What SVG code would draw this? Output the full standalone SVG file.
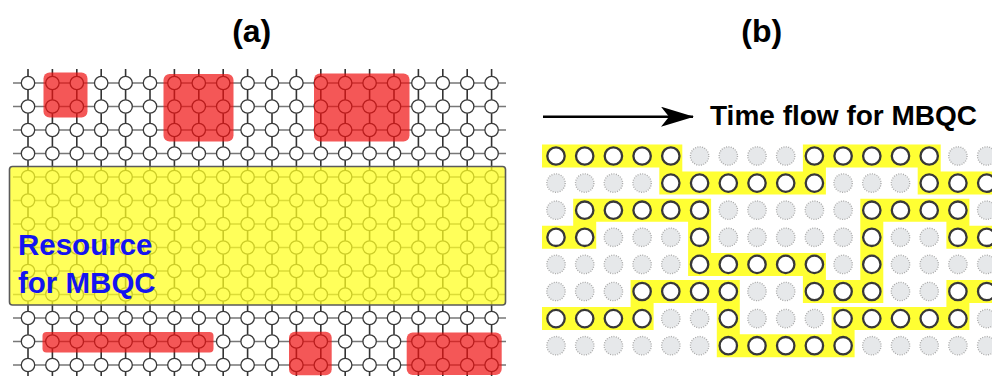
<svg xmlns="http://www.w3.org/2000/svg" xmlns:xlink="http://www.w3.org/1999/xlink" width="992" height="376" viewBox="0 0 992 376">
<style>
.title{font-family:"Liberation Sans",Arial,sans-serif;font-weight:bold;fill:#000}
.vl{stroke:#333;stroke-width:1.6;fill:none}
.hl{stroke:#777;stroke-width:1.4;fill:none}
.ac{fill:#fff;stroke:#3a3a3a;stroke-width:1.3}
.red{fill:#f01010;fill-opacity:0.7}
.on{fill:#fff;stroke:#383838;stroke-width:2.3}
.off{fill:#e6e8ea;stroke:#a8a8a8;stroke-width:1.3;stroke-dasharray:1 1.4}
.yp{fill:none;stroke:#ffff33;stroke-width:23;stroke-linejoin:miter;stroke-linecap:butt}
</style>
<defs>
<g id="arow">
<circle class="ac" cx="28" cy="0" r="6.7"/><circle class="ac" cx="52.4" cy="0" r="6.7"/><circle class="ac" cx="76.8" cy="0" r="6.7"/><circle class="ac" cx="101.2" cy="0" r="6.7"/><circle class="ac" cx="125.6" cy="0" r="6.7"/><circle class="ac" cx="150" cy="0" r="6.7"/><circle class="ac" cx="174.4" cy="0" r="6.7"/><circle class="ac" cx="198.8" cy="0" r="6.7"/><circle class="ac" cx="223.2" cy="0" r="6.7"/><circle class="ac" cx="247.6" cy="0" r="6.7"/><circle class="ac" cx="272" cy="0" r="6.7"/><circle class="ac" cx="296.4" cy="0" r="6.7"/><circle class="ac" cx="320.8" cy="0" r="6.7"/><circle class="ac" cx="345.2" cy="0" r="6.7"/><circle class="ac" cx="369.6" cy="0" r="6.7"/><circle class="ac" cx="394" cy="0" r="6.7"/><circle class="ac" cx="418.4" cy="0" r="6.7"/><circle class="ac" cx="442.8" cy="0" r="6.7"/><circle class="ac" cx="467.2" cy="0" r="6.7"/><circle class="ac" cx="491.6" cy="0" r="6.7"/>
</g>
<circle id="n1" class="on" r="8.7"/>
<circle id="n0" class="off" r="9.2"/>
<marker id="head" viewBox="0 0 34 20" refX="32" refY="10" markerWidth="34" markerHeight="20" markerUnits="userSpaceOnUse" orient="auto">
<path d="M33,10 L0,0 L8,10 L0,20 Z" fill="#000"/>
</marker>
</defs>

<text class="title" x="251.7" y="42" font-size="32" text-anchor="middle">(a)</text>
<text class="title" x="761.7" y="42" font-size="32" text-anchor="middle">(b)</text>

<g id="panel-a">
<g id="grid-lines">
<path class="vl" d="M28,69V376M52.4,69V376M76.8,69V376M101.2,69V376M125.6,69V376M150,69V376M174.4,69V376M198.8,69V376M223.2,69V376M247.6,69V376M272,69V376M296.4,69V376M320.8,69V376M345.2,69V376M369.6,69V376M394,69V376M418.4,69V376M442.8,69V376M467.2,69V376M491.6,69V376"/>
<path class="hl" d="M13,83H506M13,106.5H506M13,130H506M13,153.5H506M13,177H506M13,200.5H506M13,224H506M13,247.5H506M13,271H506M13,294.5H506M13,318H506M13,341.5H506M13,365H506"/>
</g>
<g id="grid-nodes">
<use xlink:href="#arow" y="83"/><use xlink:href="#arow" y="106.5"/><use xlink:href="#arow" y="130"/><use xlink:href="#arow" y="153.5"/><use xlink:href="#arow" y="177"/><use xlink:href="#arow" y="200.5"/><use xlink:href="#arow" y="224"/><use xlink:href="#arow" y="247.5"/><use xlink:href="#arow" y="271"/><use xlink:href="#arow" y="294.5"/><use xlink:href="#arow" y="318"/><use xlink:href="#arow" y="341.5"/><use xlink:href="#arow" y="365"/>
</g>
<g id="resource">
<rect x="9.5" y="166.5" width="496" height="138.5" rx="3" fill="#ffff20" fill-opacity="0.74" stroke="#5a5a5a" stroke-width="1.6"/>
<text class="title" x="18" y="255" font-size="29.5" style="fill:#1414f0">Resource</text>
<text class="title" x="18" y="292.7" font-size="29.5" style="fill:#1414f0">for MBQC</text>
</g>
<g id="defects">
<rect class="red" x="43.5" y="72.5" width="44" height="45" rx="6"/>
<rect class="red" x="163.5" y="74" width="70" height="67.5" rx="6"/>
<rect class="red" x="314" y="73.5" width="95.5" height="68" rx="6"/>
<rect class="red" x="42.5" y="332" width="171" height="20.5" rx="4"/>
<rect class="red" x="289" y="331.7" width="42.7" height="43.5" rx="6"/>
<rect class="red" x="406.7" y="332.5" width="95" height="42.5" rx="6"/>
</g>
</g>

<g id="panel-b">
<g id="paths">
<path class="yp" d="M542,156H670.8V183.1H814.4V156H929.2V183.1H1000"/>
<path class="yp" d="M542,237.3H584.7V210.2H699.6V264.4H814.4V291.5H871.8V210.2H957.9V237.3H1000"/>
<path class="yp" d="M542,318.6H642.1V291.5H728.3V345.7H843.1V318.6H957.9V291.5H1000"/>
</g>
<g id="qubits">
<g transform="translate(0,156)"><use xlink:href="#n1" x="556"/><use xlink:href="#n1" x="584.7"/><use xlink:href="#n1" x="613.4"/><use xlink:href="#n1" x="642.1"/><use xlink:href="#n1" x="670.8"/><use xlink:href="#n0" x="699.6"/><use xlink:href="#n0" x="728.3"/><use xlink:href="#n0" x="757"/><use xlink:href="#n0" x="785.7"/><use xlink:href="#n1" x="814.4"/><use xlink:href="#n1" x="843.1"/><use xlink:href="#n1" x="871.8"/><use xlink:href="#n1" x="900.5"/><use xlink:href="#n1" x="929.2"/><use xlink:href="#n0" x="957.9"/><use xlink:href="#n0" x="986.7"/></g>
<g transform="translate(0,183.1)"><use xlink:href="#n0" x="556"/><use xlink:href="#n0" x="584.7"/><use xlink:href="#n0" x="613.4"/><use xlink:href="#n0" x="642.1"/><use xlink:href="#n1" x="670.8"/><use xlink:href="#n1" x="699.6"/><use xlink:href="#n1" x="728.3"/><use xlink:href="#n1" x="757"/><use xlink:href="#n1" x="785.7"/><use xlink:href="#n1" x="814.4"/><use xlink:href="#n0" x="843.1"/><use xlink:href="#n0" x="871.8"/><use xlink:href="#n0" x="900.5"/><use xlink:href="#n1" x="929.2"/><use xlink:href="#n1" x="957.9"/><use xlink:href="#n1" x="986.7"/></g>
<g transform="translate(0,210.2)"><use xlink:href="#n0" x="556"/><use xlink:href="#n1" x="584.7"/><use xlink:href="#n1" x="613.4"/><use xlink:href="#n1" x="642.1"/><use xlink:href="#n1" x="670.8"/><use xlink:href="#n1" x="699.6"/><use xlink:href="#n0" x="728.3"/><use xlink:href="#n0" x="757"/><use xlink:href="#n0" x="785.7"/><use xlink:href="#n0" x="814.4"/><use xlink:href="#n0" x="843.1"/><use xlink:href="#n1" x="871.8"/><use xlink:href="#n1" x="900.5"/><use xlink:href="#n1" x="929.2"/><use xlink:href="#n1" x="957.9"/><use xlink:href="#n0" x="986.7"/></g>
<g transform="translate(0,237.3)"><use xlink:href="#n1" x="556"/><use xlink:href="#n1" x="584.7"/><use xlink:href="#n0" x="613.4"/><use xlink:href="#n0" x="642.1"/><use xlink:href="#n0" x="670.8"/><use xlink:href="#n1" x="699.6"/><use xlink:href="#n0" x="728.3"/><use xlink:href="#n0" x="757"/><use xlink:href="#n0" x="785.7"/><use xlink:href="#n0" x="814.4"/><use xlink:href="#n0" x="843.1"/><use xlink:href="#n1" x="871.8"/><use xlink:href="#n0" x="900.5"/><use xlink:href="#n0" x="929.2"/><use xlink:href="#n1" x="957.9"/><use xlink:href="#n1" x="986.7"/></g>
<g transform="translate(0,264.4)"><use xlink:href="#n0" x="556"/><use xlink:href="#n0" x="584.7"/><use xlink:href="#n0" x="613.4"/><use xlink:href="#n0" x="642.1"/><use xlink:href="#n0" x="670.8"/><use xlink:href="#n1" x="699.6"/><use xlink:href="#n1" x="728.3"/><use xlink:href="#n1" x="757"/><use xlink:href="#n1" x="785.7"/><use xlink:href="#n1" x="814.4"/><use xlink:href="#n0" x="843.1"/><use xlink:href="#n1" x="871.8"/><use xlink:href="#n0" x="900.5"/><use xlink:href="#n0" x="929.2"/><use xlink:href="#n0" x="957.9"/><use xlink:href="#n0" x="986.7"/></g>
<g transform="translate(0,291.5)"><use xlink:href="#n0" x="556"/><use xlink:href="#n0" x="584.7"/><use xlink:href="#n0" x="613.4"/><use xlink:href="#n1" x="642.1"/><use xlink:href="#n1" x="670.8"/><use xlink:href="#n1" x="699.6"/><use xlink:href="#n1" x="728.3"/><use xlink:href="#n0" x="757"/><use xlink:href="#n0" x="785.7"/><use xlink:href="#n1" x="814.4"/><use xlink:href="#n1" x="843.1"/><use xlink:href="#n1" x="871.8"/><use xlink:href="#n0" x="900.5"/><use xlink:href="#n0" x="929.2"/><use xlink:href="#n1" x="957.9"/><use xlink:href="#n1" x="986.7"/></g>
<g transform="translate(0,318.6)"><use xlink:href="#n1" x="556"/><use xlink:href="#n1" x="584.7"/><use xlink:href="#n1" x="613.4"/><use xlink:href="#n1" x="642.1"/><use xlink:href="#n0" x="670.8"/><use xlink:href="#n0" x="699.6"/><use xlink:href="#n1" x="728.3"/><use xlink:href="#n0" x="757"/><use xlink:href="#n0" x="785.7"/><use xlink:href="#n0" x="814.4"/><use xlink:href="#n1" x="843.1"/><use xlink:href="#n1" x="871.8"/><use xlink:href="#n1" x="900.5"/><use xlink:href="#n1" x="929.2"/><use xlink:href="#n1" x="957.9"/><use xlink:href="#n0" x="986.7"/></g>
<g transform="translate(0,345.7)"><use xlink:href="#n0" x="556"/><use xlink:href="#n0" x="584.7"/><use xlink:href="#n0" x="613.4"/><use xlink:href="#n0" x="642.1"/><use xlink:href="#n0" x="670.8"/><use xlink:href="#n0" x="699.6"/><use xlink:href="#n1" x="728.3"/><use xlink:href="#n1" x="757"/><use xlink:href="#n1" x="785.7"/><use xlink:href="#n1" x="814.4"/><use xlink:href="#n1" x="843.1"/><use xlink:href="#n0" x="871.8"/><use xlink:href="#n0" x="900.5"/><use xlink:href="#n0" x="929.2"/><use xlink:href="#n0" x="957.9"/><use xlink:href="#n0" x="986.7"/></g>
</g>
<text class="title" x="710" y="125" font-size="28">Time flow for MBQC</text>
</g>

<g id="connectors">
<path d="M543,116.7H693" stroke="#000" stroke-width="2.6" fill="none" marker-end="url(#head)"/>
</g>
</svg>
